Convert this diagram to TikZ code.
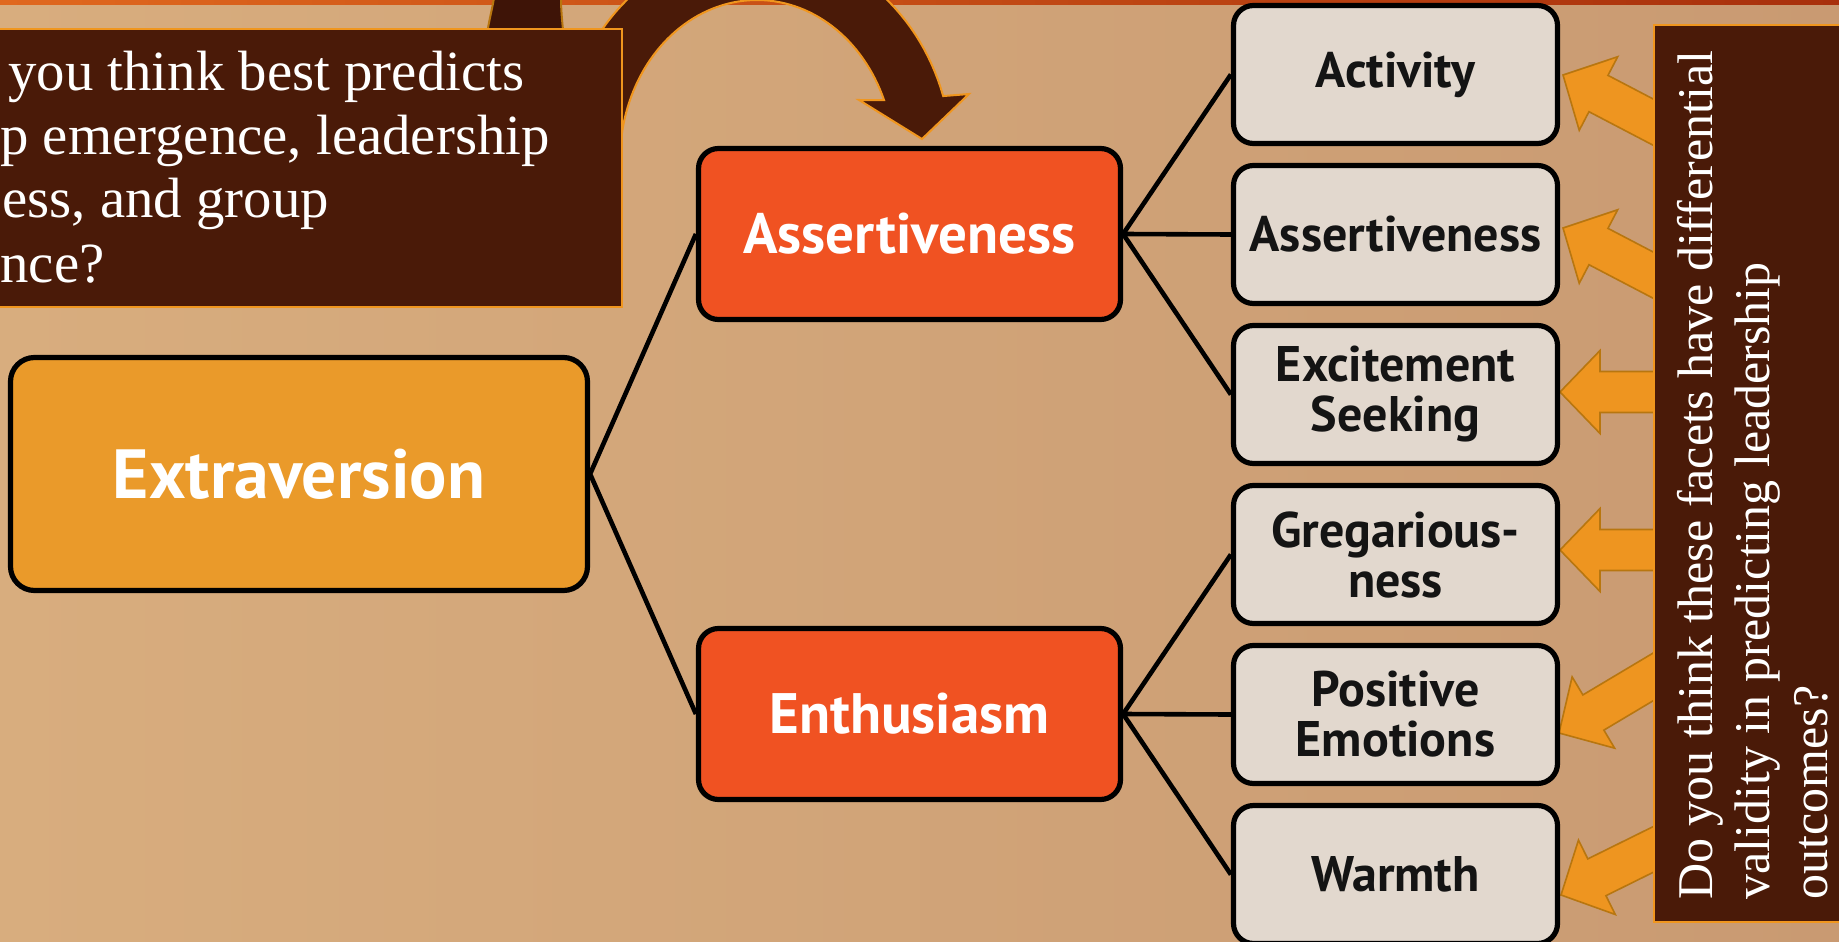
\documentclass[tikz,border=0pt]{standalone}
\usepackage{fontspec}
\newfontfamily\ptsans{PT Sans}
\newfontfamily\qserif{Liberation Serif}
\definecolor{bgL}{HTML}{D8AD7E}
\definecolor{bgR}{HTML}{C99A72}
\definecolor{dbrown}{HTML}{4A1A08}
\definecolor{ddbrown}{HTML}{3E1407}
\definecolor{obord}{HTML}{F0961E}
\definecolor{arrfill}{HTML}{EE9520}
\definecolor{arrdraw}{HTML}{B8760F}
\definecolor{facetfill}{HTML}{E2D8CE}
\definecolor{extfill}{HTML}{EA9A2A}
\definecolor{midfill}{HTML}{F05222}
\definecolor{stripeL}{HTML}{E0681E}
\definecolor{stripeR}{HTML}{A8300C}
\tikzset{
  facetbox/.style={draw=black, line width=2.6pt, fill=facetfill, rounded corners=10pt,
    minimum width=162pt, minimum height=69pt, inner sep=0pt, align=center,
    text=black!92, font=\ptsans\bfseries\fontsize{25}{25}\selectfont},
  midbox/.style={draw=black, line width=2.6pt, fill=midfill, rounded corners=10pt,
    minimum width=211pt, minimum height=85.5pt, inner sep=0pt, text=white,
    font=\ptsans\bfseries\fontsize{28.5}{30}\selectfont},
  extbox/.style={draw=black, line width=2.6pt, fill=extfill, rounded corners=12pt,
    minimum width=288.5pt, minimum height=116.5pt, inner sep=0pt, text=white,
    font=\ptsans\bfseries\fontsize{34.8}{36}\selectfont},
  darkbox/.style={draw=obord, line width=0.8pt, fill=dbrown, inner sep=0pt},
  conn/.style={line width=2.3pt, draw=black},
  bigarrow/.style={fill=arrfill, draw=arrdraw, line width=0.8pt, line join=miter},
  curvearrow/.style={fill=dbrown, draw=obord, line width=1pt, line join=miter},
  qtext/.style={text=white, inner sep=0pt, anchor=base west, font=\qserif\fontsize{28.4}{32}\selectfont},
  rtext/.style={text=white, inner sep=0pt, anchor=base west, rotate=90, font=\qserif\fontsize{25}{29}\selectfont},
  blockarrow/.pic={\draw[bigarrow] (0,0) -- (40,-41.5) -- (40,-20.5) -- (140,-20.5) -- (140,20.5) -- (40,20.5) -- (40,41.5) -- cycle;}
}
\begin{document}
\begin{tikzpicture}[x=0.5pt,y=-0.5pt]
\useasboundingbox (0,0) rectangle (1839,941);
% background
\shade[left color=bgL, right color=bgR] (0,0) rectangle (1839,941);
\shade[left color=stripeL, right color=stripeR] (0,0) rectangle (1839,5);
% curved arrow and strip behind question box
\draw[curvearrow, fill=ddbrown, draw=arrdraw] (494,-2) .. controls (492,10) and (489,20) .. (486,40) -- (564,40) .. controls (562,20) and (561,10) .. (561,-2) -- cycle;
\draw[curvearrow] plot[domain=175:17.3, samples=70] ({757+195*cos(\x)},{160-215*sin(\x)})
  -- (969,94) -- (922,139) -- (859,100)
  -- plot[domain=22:172, samples=70] ({757+137*cos(\x)},{160-160*sin(\x)}) -- cycle;
% question box
\node[darkbox, minimum width=316pt, minimum height=139pt] (qbox) at (306,168) {};
\node[qtext] (q1) at (8,91) {you think best predicts};
\node[qtext] (q2) at (0,155) {p emergence, leadership};
\node[qtext] (q3) at (2,218) {ess, and group};
\node[qtext] (q4) at (0,282) {nce?};
% orange block arrows
\pic[rotate=-27.6] at (1563,75) {blockarrow};
\pic[rotate=-27.6] at (1563,228) {blockarrow};
\pic at (1560,392) {blockarrow};
\pic at (1560,550) {blockarrow};
\pic[rotate=30.8] at (1559,733) {blockarrow};
\pic[rotate=26.3] at (1561,895) {blockarrow};
% right question box
\node[darkbox, minimum width=103pt, minimum height=448.5pt] (rbox) at (1757,473.5) {};
\node[rtext] (r1) at (1712,900) {Do you think these facets have differential};
\node[rtext] (r2) at (1769,900) {validity in predicting leadership};
\node[rtext] (r3) at (1827,900) {outcomes?};
% main nodes
\node[extbox] (ext) at (299,474) {Extraversion};
\node[midbox] (ass) at (909.5,234) {Assertiveness};
\node[midbox] (ent) at (909.5,714) {Enthusiasm};
\node[facetbox] (f1) at (1395.5,74.5) {Activity};
\node[facetbox] (f2) at (1395.5,234.5) {Assertiveness};
\node[facetbox] (f3) at (1395.5,394.5) {Excitement\\Seeking};
\node[facetbox] (f4) at (1395.5,554.5) {Gregarious-\\ness};
\node[facetbox] (f5) at (1395.5,714.5) {Positive\\Emotions};
\node[facetbox] (f6) at (1395.5,874.5) {Warmth};
% connectors
\draw[conn] (ass.west) -- (ext.east) -- (ent.west);
\draw[conn] (f1.west) -- (ass.east) -- (f3.west);
\draw[conn] (ass.east) -- (f2.west);
\draw[conn] (f4.west) -- (ent.east) -- (f6.west);
\draw[conn] (ent.east) -- (f5.west);
\end{tikzpicture}
\end{document}
